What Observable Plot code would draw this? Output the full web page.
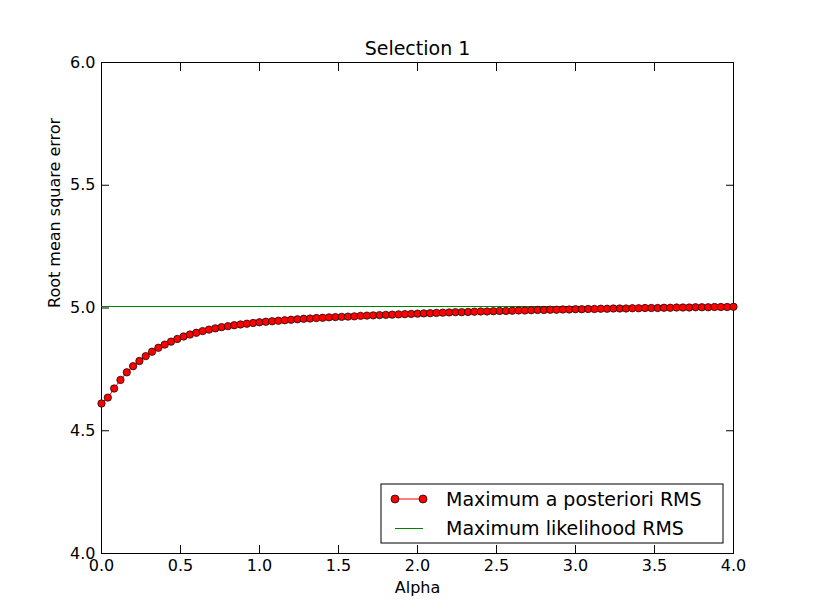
<!DOCTYPE html>
<html lang="en">
<head>
<meta charset="UTF-8">
<title>Selection 1</title>
<style>
  body { margin: 0; background: #fff; }
  #chart svg { font-family: "DejaVu Sans", sans-serif; }
</style>
<script src="https://cdn.jsdelivr.net/npm/d3@7"></script>
<script src="https://cdn.jsdelivr.net/npm/@observablehq/plot@0.6"></script>
</head>
<body>
<div id="chart"></div>
<script>
// Data
const alpha = d3.range(101).map(i => +(i * 0.04).toFixed(2));
const mapRms = [
  4.611, 4.635, 4.672, 4.707, 4.738, 4.763, 4.784, 4.804, 4.822, 4.838,
  4.851, 4.863, 4.874, 4.884, 4.892, 4.899, 4.906, 4.912, 4.917, 4.922,
  4.926, 4.930, 4.933, 4.936, 4.939, 4.942, 4.944, 4.946, 4.948, 4.950,
  4.952, 4.954, 4.956, 4.957, 4.959, 4.960, 4.962, 4.963, 4.964, 4.965,
  4.966, 4.968, 4.969, 4.970, 4.971, 4.972, 4.973, 4.974, 4.975, 4.976,
  4.977, 4.978, 4.979, 4.980, 4.981, 4.982, 4.983, 4.983, 4.984, 4.985,
  4.986, 4.986, 4.987, 4.988, 4.988, 4.989, 4.990, 4.990, 4.991, 4.992,
  4.992, 4.993, 4.993, 4.994, 4.994, 4.995, 4.995, 4.996, 4.996, 4.997,
  4.997, 4.998, 4.998, 4.998, 4.999, 4.999, 5.000, 5.000, 5.000, 5.001,
  5.001, 5.002, 5.002, 5.002, 5.003, 5.003, 5.003, 5.004, 5.004, 5.004,
  5.005
];
const mlRms = 5.008;
const xTicks = [0, 0.5, 1, 1.5, 2, 2.5, 3, 3.5, 4];
const yTicks = [4.0, 4.5, 5.0, 5.5, 6.0];
const seriesNames = ["Maximum a posteriori RMS", "Maximum likelihood RMS"];

const data = alpha.map((a, i) => ({alpha: a, rms: mapRms[i]}));
const f = d3.format(".1f");

const plot = Plot.plot({
  width: 815, height: 615,
  marginLeft: 101, marginRight: 82, marginTop: 62, marginBottom: 62,
  style: {fontSize: "16px", fontFamily: "DejaVu Sans, sans-serif", color: "#000"},
  x: {domain: [0, 4]},
  y: {domain: [4, 6]},
  marks: [
    Plot.frame({stroke: "#000"}),
    Plot.axisX({ticks: xTicks, tickFormat: f, tickSize: -8, tickPadding: 14, label: null}),
    Plot.axisX({anchor: "top", ticks: xTicks, text: null, tickSize: -8, label: null}),
    Plot.axisY({ticks: yTicks, tickFormat: f, tickSize: -8, tickPadding: 14, label: null}),
    Plot.axisY({anchor: "right", ticks: yTicks, text: null, tickSize: -8, label: null}),
    Plot.ruleY([mlRms], {stroke: "#008000", strokeWidth: 1, shapeRendering: "crispEdges"}),
    Plot.line(data, {x: "alpha", y: "rms", stroke: "#ff0000", strokeWidth: 1}),
    Plot.dot(data, {x: "alpha", y: "rms", r: 3.7, fill: "#ff0000", stroke: "#000", strokeWidth: 0.7}),
    Plot.text(["Selection 1"], {frameAnchor: "top", lineAnchor: "middle", dy: -14, fontSize: 19}),
    Plot.text(["Alpha"], {frameAnchor: "bottom", lineAnchor: "middle", dy: 34, fontSize: 16}),
    Plot.text(["Root mean square error"], {frameAnchor: "left", lineAnchor: "middle", dx: -47, rotate: -90, fontSize: 16})
  ]
});

// Legend box in the lower right, matplotlib style
const svg = d3.select(plot);
const lg = svg.append("g").attr("transform", "translate(381,484)");
lg.append("rect").attr("width", 342).attr("height", 59)
  .attr("fill", "#fff").attr("stroke", "#000");
lg.append("line").attr("x1", 14).attr("x2", 42).attr("y1", 15).attr("y2", 15).attr("stroke", "#ff0000");
[14, 42].forEach(cx => lg.append("circle").attr("cx", cx).attr("cy", 15).attr("r", 4)
  .attr("fill", "#ff0000").attr("stroke", "#000").attr("stroke-width", 0.7));
lg.append("line").attr("x1", 14).attr("x2", 42).attr("y1", 44).attr("y2", 44)
  .attr("stroke", "#008000").attr("shape-rendering", "crispEdges");
seriesNames.forEach((name, i) => lg.append("text").attr("x", 65).attr("y", 15 + i * 29)
  .attr("dy", "0.35em").attr("text-anchor", "start").attr("font-size", 19).text(name));

document.getElementById("chart").appendChild(plot);
</script>
</body>
</html>
